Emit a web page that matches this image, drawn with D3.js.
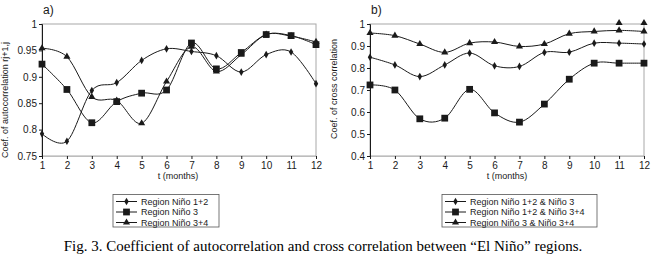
<!DOCTYPE html>
<html lang="en">
<head>
    <meta charset="UTF-8">
    <title>El Nino correlation</title>
    <script src="https://d3js.org/d3.v7.min.js"></script>
    <style>
        body { margin: 0; background: #fff; }
        svg { display: block; }
    </style>
</head>
<body>
    <div id="chart"></div>

    <script>
        // months on the x axis
        var months = [1, 2, 3, 4, 5, 6, 7, 8, 9, 10, 11, 12];

        // panel a) autocorrelation
        var nino12 = [0.792, 0.778, 0.874, 0.889, 0.931, 0.953, 0.948, 0.940, 0.909, 0.942, 0.947, 0.887];
        var nino3 = [0.924, 0.876, 0.813, 0.853, 0.869, 0.875, 0.964, 0.915, 0.946, 0.980, 0.978, 0.961];
        var nino34 = [0.954, 0.938, 0.862, 0.855, 0.812, 0.891, 0.957, 0.910, 0.942, 0.980, 0.977, 0.966];
        var yTicksA = [0.75, 0.8, 0.85, 0.9, 0.95, 1];
        var yLabelsA = ["0.75", "0.8", "0.85", "0.9", "0.95", "1"];

        // panel b) cross correlation
        var cross12_3 = [0.849, 0.814, 0.761, 0.814, 0.868, 0.810, 0.807, 0.871, 0.872, 0.913, 0.913, 0.909];
        var cross12_34 = [0.723, 0.700, 0.569, 0.572, 0.703, 0.596, 0.554, 0.636, 0.749, 0.822, 0.822, 0.822];
        var cross3_34 = [0.959, 0.947, 0.909, 0.871, 0.913, 0.918, 0.898, 0.909, 0.956, 0.966, 0.971, 0.966];
        // stray triangle markers sitting on the top border
        var extraMonthsB = [11, 12];
        var extraValsB = [1, 1];
        var yTicksB = [0.4, 0.5, 0.6, 0.7, 0.8, 0.9, 1];
        var yLabelsB = ["0.4", "0.5", "0.6", "0.7", "0.8", "0.9", "1"];

        var svg = d3.select("#chart").append("svg")
            .attr("width", 652)
            .attr("height", 258);

        var ink = "#1a1a1a";
        var font = "Liberation Sans, Arial, sans-serif";

        var shapes = {
            diamond: d3.symbol().type(d3.symbolDiamond).size(17),
            square: d3.symbol().type(d3.symbolSquare).size(46),
            triangle: d3.symbol().type(d3.symbolTriangle).size(22)
        };

        function drawPanel(p) {
            var x = d3.scaleLinear().domain([1, 12]).range([p.left, p.right]);
            var y = d3.scaleLinear().domain([p.yTicks[0], 1]).range([156, 24]);
            var g = svg.append("g");

            // plot frame (grey top/right)
            g.append("rect")
                .attr("x", p.left).attr("y", 24)
                .attr("width", p.right - p.left).attr("height", 132)
                .attr("fill", "none").attr("stroke", "#a8a8a8");

            var yAxis = g.append("g")
                .attr("transform", "translate(" + p.left + ",0)")
                .call(d3.axisLeft(y).tickValues(p.yTicks).tickSize(3).tickPadding(2)
                    .tickFormat(function(d, i) { return p.yLabels[i]; }));
            var xAxis = g.append("g")
                .attr("transform", "translate(0,156)")
                .call(d3.axisBottom(x).tickValues(months).tickSize(3).tickPadding(3)
                    .tickFormat(d3.format("d")));
            [xAxis, yAxis].forEach(function(a) {
                a.selectAll("text").attr("font-family", font).attr("font-size", 10).attr("fill", ink);
                a.selectAll("line").attr("stroke", ink);
            });
            yAxis.select(".domain").attr("stroke", ink);
            xAxis.select(".domain").attr("stroke", "#bdbdbd");

            var line = d3.line()
                .x(function(d, i) { return x(months[i]); })
                .y(function(d) { return y(d); })
                .curve(d3.curveCatmullRom.alpha(0));

            p.series.forEach(function(s) {
                g.append("path")
                    .attr("d", line(s.values))
                    .attr("fill", "none")
                    .attr("stroke", ink)
                    .attr("stroke-width", 1);
                g.selectAll(null)
                    .data(s.values)
                    .enter().append("path")
                    .attr("d", shapes[s.shape])
                    .attr("transform", function(d, i) { return "translate(" + x(months[i]) + "," + y(d) + ")"; })
                    .attr("fill", ink);
            });

            if (p.extra) {
                g.selectAll(null)
                    .data(p.extra.vals)
                    .enter().append("path")
                    .attr("d", shapes.triangle)
                    .attr("transform", function(d, i) { return "translate(" + x(p.extra.months[i]) + "," + (y(d) - 1) + ")"; })
                    .attr("fill", ink);
            }

            // panel letter
            svg.append("text")
                .attr("x", p.left + 1).attr("y", 14)
                .attr("font-family", font).attr("font-size", 12).attr("fill", ink)
                .text(p.letter);

            // x title
            svg.append("text")
                .attr("x", p.xTitleX).attr("y", 179)
                .attr("text-anchor", "middle")
                .attr("font-family", font).attr("font-size", 9).attr("fill", ink)
                .text("t (months)");

            // y title
            svg.append("text")
                .attr("transform", "translate(" + p.yTitleX + "," + p.yTitleY + ") rotate(-90)")
                .attr("text-anchor", "middle")
                .attr("font-family", font).attr("font-size", 9).attr("fill", ink)
                .text(p.yTitle);

            // legend
            var lg = svg.append("g");
            lg.append("rect")
                .attr("x", p.legend.x).attr("y", 194.5)
                .attr("width", p.legend.w).attr("height", 32.5)
                .attr("fill", "#fff").attr("stroke", "#555").attr("stroke-width", 0.8);
            p.series.forEach(function(s, i) {
                var ly = 201.5 + i * 10.5;
                var lx = p.legend.x + 3;
                lg.append("line")
                    .attr("x1", lx).attr("x2", lx + 21)
                    .attr("y1", ly).attr("y2", ly)
                    .attr("stroke", ink);
                lg.append("path")
                    .attr("d", shapes[s.shape])
                    .attr("transform", "translate(" + (lx + 10.5) + "," + ly + ")")
                    .attr("fill", ink);
                lg.append("text")
                    .attr("x", lx + 25).attr("y", ly + 3.2)
                    .attr("font-family", font).attr("font-size", 9).attr("fill", ink)
                    .text(s.name);
            });
        }

        drawPanel({
            left: 42, right: 316, letter: "a)",
            yTicks: yTicksA, yLabels: yLabelsA,
            xTitleX: 178, yTitleX: 8, yTitleY: 100,
            yTitle: "Coef. of autocorrelation rj+1,j",
            legend: { x: 113, w: 106 },
            series: [
                { name: "Region Niño 1+2", values: nino12, shape: "diamond" },
                { name: "Region Niño 3", values: nino3, shape: "square" },
                { name: "Region Niño 3+4", values: nino34, shape: "triangle" }
            ]
        });

        drawPanel({
            left: 370, right: 644, letter: "b)",
            yTicks: yTicksB, yLabels: yLabelsB,
            xTitleX: 507, yTitleX: 337, yTitleY: 89,
            yTitle: "Coef. of cross correlation",
            legend: { x: 442, w: 155 },
            extra: { months: extraMonthsB, vals: extraValsB },
            series: [
                { name: "Region Niño 1+2 & Niño 3", values: cross12_3, shape: "diamond" },
                { name: "Region Niño 1+2 & Niño 3+4", values: cross12_34, shape: "square" },
                { name: "Region Niño 3 & Niño 3+4", values: cross3_34, shape: "triangle" }
            ]
        });

        // figure caption
        svg.append("text")
            .attr("x", 323).attr("y", 251)
            .attr("text-anchor", "middle")
            .attr("font-family", "Liberation Serif, Times New Roman, serif")
            .attr("font-size", 15).attr("fill", "#000")
            .text("Fig. 3. Coefficient of autocorrelation and cross correlation between \u201cEl Niño\u201d regions.");
    </script>
</body>
</html>
